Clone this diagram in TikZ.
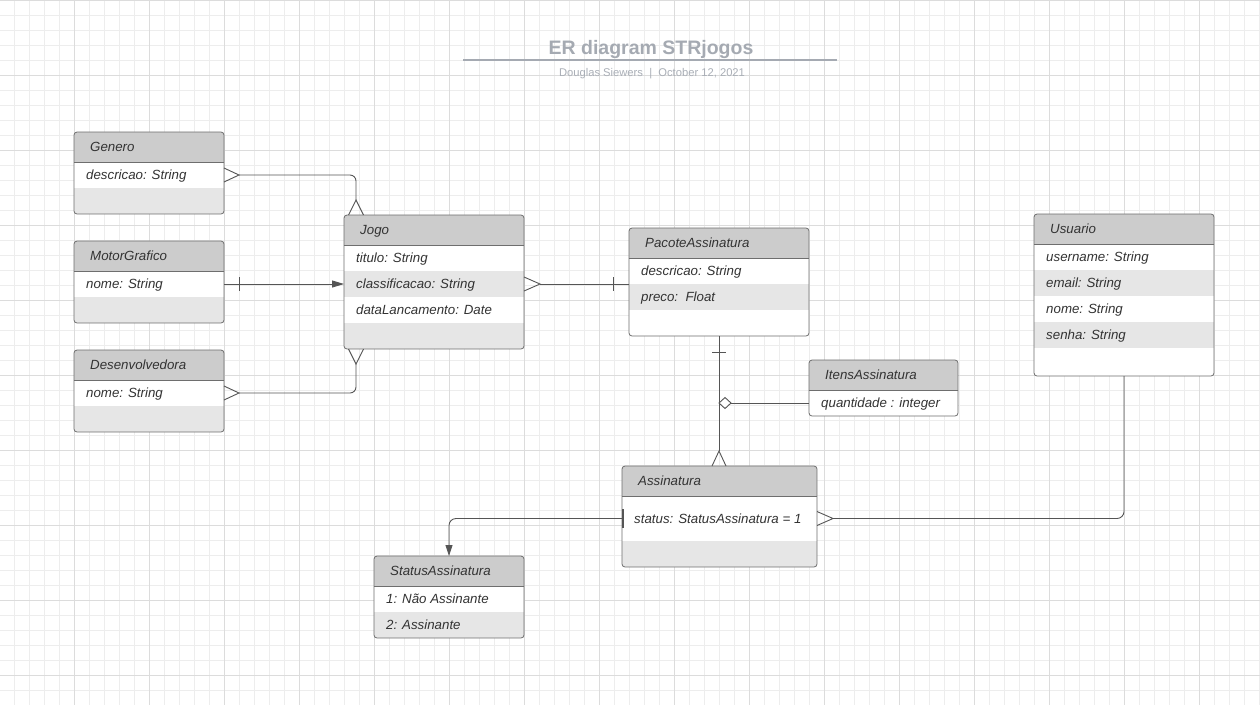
\documentclass[tikz,border=0pt]{standalone}
\usepackage{fontspec}
\setmainfont{Liberation Sans}
\usetikzlibrary{arrows.meta,calc}
\definecolor{hdr}{HTML}{CCCCCC}
\definecolor{rowg}{HTML}{E6E6E6}
\definecolor{bord}{HTML}{6E6E6E}
\definecolor{txt}{HTML}{333333}
\definecolor{lnk}{HTML}{555555}
\definecolor{gmin}{HTML}{EDEDED}
\definecolor{gmaj}{HTML}{DCDCDC}
\definecolor{ttl}{HTML}{A5AAB2}
\definecolor{subc}{HTML}{A9AEB6}
\tikzset{
  attr/.style={anchor=base west, inner sep=0pt, text=txt, font=\fontsize{13.3}{16}\selectfont\itshape},
  htext/.style={attr},
  ebox/.style={anchor=north west, draw=bord, line width=0.8pt, rounded corners=3pt, inner sep=0pt, outer sep=0pt},
  conn/.style={draw=lnk, line width=0.9pt},
  gridmin/.style={draw=gmin, line width=0.9pt},
  gridmaj/.style={draw=gmaj, line width=0.9pt},
}
% #1 name, #2 left, #3 top, #4 width, #5 height, #6 header, #7 rows top/height/fill/text
\newcommand\erent[7]{%
  \begin{scope}
    \clip[rounded corners=3pt] (#2,#3) rectangle ++(#4,#5);
    \fill[white] (#2,#3) rectangle ++(#4,#5);
    \fill[hdr] (#2,#3) rectangle ++(#4,30);
    \foreach \t/\hh/\f/\s [count=\i] in {#7} {
      \fill[\f] (#2,#3+\t) rectangle ++(#4,\hh);
      \node[attr] (#1-r\i) at (#2+12,#3+\t+\hh/2+4.5) {\s};
    }
  \end{scope}
  \draw[draw=bord, line width=0.8pt] (#2,#3+30) -- ++(#4,0);
  \node[ebox, minimum width=#4pt, minimum height=#5pt] (#1) at (#2,#3) {};
  \node[htext] (#1-h) at (#2+16,#3+19) {#6};
}
\begin{document}
\begin{tikzpicture}[x=1pt,y=-1pt]
\useasboundingbox (0,0) rectangle (1260,705);
\fill[white] (0,0) rectangle (1260,705);
% grid
\foreach \x in {14,29,...,1259} \draw[gridmin] (\x,0) -- (\x,705);
\foreach \y in {15,30,...,704} \draw[gridmin] (0,\y) -- (1260,\y);
\foreach \x in {74,149,...,1259} \draw[gridmaj] (\x,0) -- (\x,705);
\foreach \y in {0,75,...,704} \draw[gridmaj] (0,\y) -- (1260,\y);

% title
\node[anchor=base, inner sep=0pt, text=ttl, font=\fontsize{19.5}{22}\selectfont\bfseries] (title) at (651,54) {ER diagram STRjogos};
\draw[draw=ttl, line width=1.2pt] (463,60) -- (837,60);
\node[anchor=base, inner sep=0pt, text=subc, font=\fontsize{11.2}{13}\selectfont] (subtitle) at (652,76) {Douglas Siewers\ \ |\ \ October 12, 2021};

% entities
\erent{genero}{74}{132}{150}{82}{Genero}{30/26/white/descricao: String, 56/26/rowg/{}}
\erent{motor}{74}{241}{150}{82}{MotorGrafico}{30/26/white/nome: String, 56/26/rowg/{}}
\erent{desenv}{74}{350}{150}{82}{Desenvolvedora}{30/26/white/nome: String, 56/26/rowg/{}}
\erent{jogo}{344}{215}{180}{134}{Jogo}{30/26/white/titulo: String, 56/26/rowg/classificacao: String, 82/26/white/dataLancamento: Date, 108/26/rowg/{}}
\erent{pacote}{629}{228}{180}{108}{PacoteAssinatura}{30/26/white/descricao: String, 56/26/rowg/preco:\ \ Float, 82/26/white/{}}
\erent{itens}{809}{360}{149}{56}{ItensAssinatura}{30/26/white/quantidade : integer}
\erent{assin}{622}{466}{195}{101}{Assinatura}{30/45/white/status: StatusAssinatura = 1, 75/26/rowg/{}}
\erent{status}{374}{556}{150}{82}{StatusAssinatura}{30/26/white/1: Não Assinante, 56/26/rowg/2: Assinante}
\erent{usuario}{1034}{214}{180}{162}{Usuario}{30/26/white/username: String, 56/26/rowg/email: String, 82/26/white/nome: String, 108/26/rowg/senha: String, 134/28/white/{}}

% Genero -- Jogo
\draw[conn] ([yshift=-36pt]genero.north east) -- ([xshift=15pt,yshift=-43pt]genero.north east) -- ([yshift=-50pt]genero.north east);
\draw[conn, rounded corners=6pt] ([xshift=15pt,yshift=-43pt]genero.north east) -| ([xshift=12pt,yshift=15pt]jogo.north west);
\draw[conn] ([xshift=4.5pt]jogo.north west) -- ([xshift=12pt,yshift=15pt]jogo.north west) -- ([xshift=19.5pt]jogo.north west);

% MotorGrafico -- Jogo
\draw[conn, -{Triangle[length=12pt,width=7pt]}] ([yshift=-43pt]motor.north east) -- ([yshift=-69pt]jogo.north west);
\draw[conn] ([xshift=15pt,yshift=-36pt]motor.north east) -- ([xshift=15pt,yshift=-50pt]motor.north east);

% Desenvolvedora -- Jogo
\draw[conn] ([yshift=-36pt]desenv.north east) -- ([xshift=15pt,yshift=-43pt]desenv.north east) -- ([yshift=-50pt]desenv.north east);
\draw[conn, rounded corners=6pt] ([xshift=15pt,yshift=-43pt]desenv.north east) -| ([xshift=12pt,yshift=-15pt]jogo.south west);
\draw[conn] ([xshift=4.5pt]jogo.south west) -- ([xshift=12pt,yshift=-15pt]jogo.south west) -- ([xshift=19.5pt]jogo.south west);

% Jogo -- PacoteAssinatura
\draw[conn] ([yshift=-62pt]jogo.north east) -- ([xshift=16pt,yshift=-69pt]jogo.north east) -- ([yshift=-76pt]jogo.north east);
\draw[conn] ([xshift=16pt,yshift=-69pt]jogo.north east) -- ([yshift=-56pt]pacote.north west);
\draw[conn] ([xshift=-16pt,yshift=-49pt]pacote.north west) -- ([xshift=-16pt,yshift=-63pt]pacote.north west);

% PacoteAssinatura -- Assinatura
\draw[conn] (pacote.south) -- ([yshift=15pt]pacote.south |- assin.north);
\draw[conn] ([xshift=-7pt,yshift=-16pt]pacote.south) -- ([xshift=7pt,yshift=-16pt]pacote.south);
\draw[conn] ([xshift=-7pt]pacote.south |- assin.north) -- ([yshift=15pt]pacote.south |- assin.north) -- ([xshift=7pt]pacote.south |- assin.north);

% ItensAssinatura aggregation
\coordinate (dia) at (719,403);
\draw[conn] ([xshift=12pt]dia) -- ([yshift=-43pt]itens.north west);
\draw[conn, fill=white, line join=miter] (dia) -- ++(6,-5.5) -- ++(6,5.5) -- ++(-6,5.5) -- cycle;

% Assinatura -- StatusAssinatura
\draw[conn, rounded corners=7pt, -{Triangle[length=11pt,width=7pt]}] ([yshift=-52.5pt]assin.north west) -| (status.north);
\draw[conn, line width=1.2pt] ([xshift=1pt,yshift=-43pt]assin.north west) -- ([xshift=1pt,yshift=-62pt]assin.north west);

% Usuario -- Assinatura
\draw[conn, rounded corners=7pt] (usuario.south) |- ([xshift=16pt,yshift=-52.5pt]assin.north east);
\draw[conn] ([yshift=-45.5pt]assin.north east) -- ([xshift=16pt,yshift=-52.5pt]assin.north east) -- ([yshift=-59.5pt]assin.north east);
\end{tikzpicture}
\end{document}
